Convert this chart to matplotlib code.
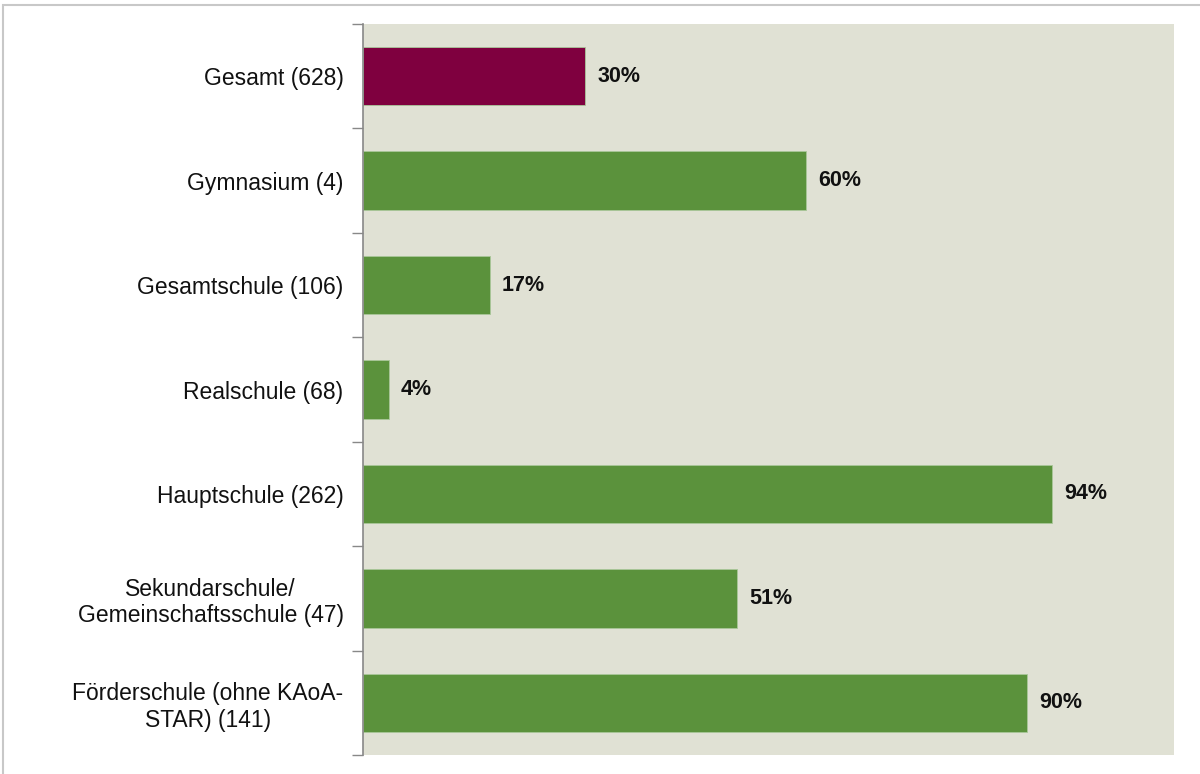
import numpy as np
import matplotlib.pyplot as plt
from matplotlib.patches import Rectangle

plt.rcParams['font.family'] = ['Liberation Sans', 'DejaVu Sans']

# Data (shares)
categories = ['Gesamt (628)', 'Gymnasium (4)', 'Gesamtschule (106)', 'Realschule (68)',
              'Hauptschule (262)', 'Sekundarschule/\nGemeinschaftsschule (47)',
              'Förderschule (ohne KAoA-\nSTAR) (141)']
values = [0.303, 0.604, 0.173, 0.035, 0.939, 0.510, 0.905]
labels = ['30%', '60%', '17%', '4%', '94%', '51%', '90%']
colors = ['#7F003F'] + ['#5B923C'] * 6

fig = plt.figure(figsize=(12, 7.74), dpi=100)
ax = fig.add_axes([0.3025, 0.0245, 0.676, 0.9445])
ax.set_facecolor('#E0E1D4')

y = np.arange(len(categories))
ax.barh(y, values, height=0.56, color=colors, edgecolor='#A9C79A', linewidth=0.6)
for yi, v, lab in zip(y, values, labels):
    ax.text(v + 0.016, yi, lab, va='center', ha='left', fontsize=15.5,
            fontweight='bold', color='#111111')

ax.set_xlim(0, 1.105)
ax.set_ylim(len(categories) - 0.5, -0.5)
ax.set_yticks(y)
ax.set_yticklabels(categories, fontsize=16.5, ha='right', multialignment='center',
                   color='#111111')
ax.set_yticks(np.arange(-0.5, len(categories)), minor=True)
ax.tick_params(axis='y', which='major', length=0, pad=14)
ax.tick_params(axis='y', which='minor', length=8, width=1, color='#888888')
ax.set_xticks([])
for s in ['top', 'right', 'bottom']:
    ax.spines[s].set_visible(False)
ax.spines['left'].set_color('#888888')
ax.spines['left'].set_linewidth(1.2)

# outer frame
fig.patches.append(Rectangle((3 / 1200, -0.01), 1.02, (774 - 5) / 774 + 0.01,
                             transform=fig.transFigure, fill=False,
                             edgecolor='#C8C8C8', linewidth=1.5))

plt.savefig('out.png', dpi=100)
